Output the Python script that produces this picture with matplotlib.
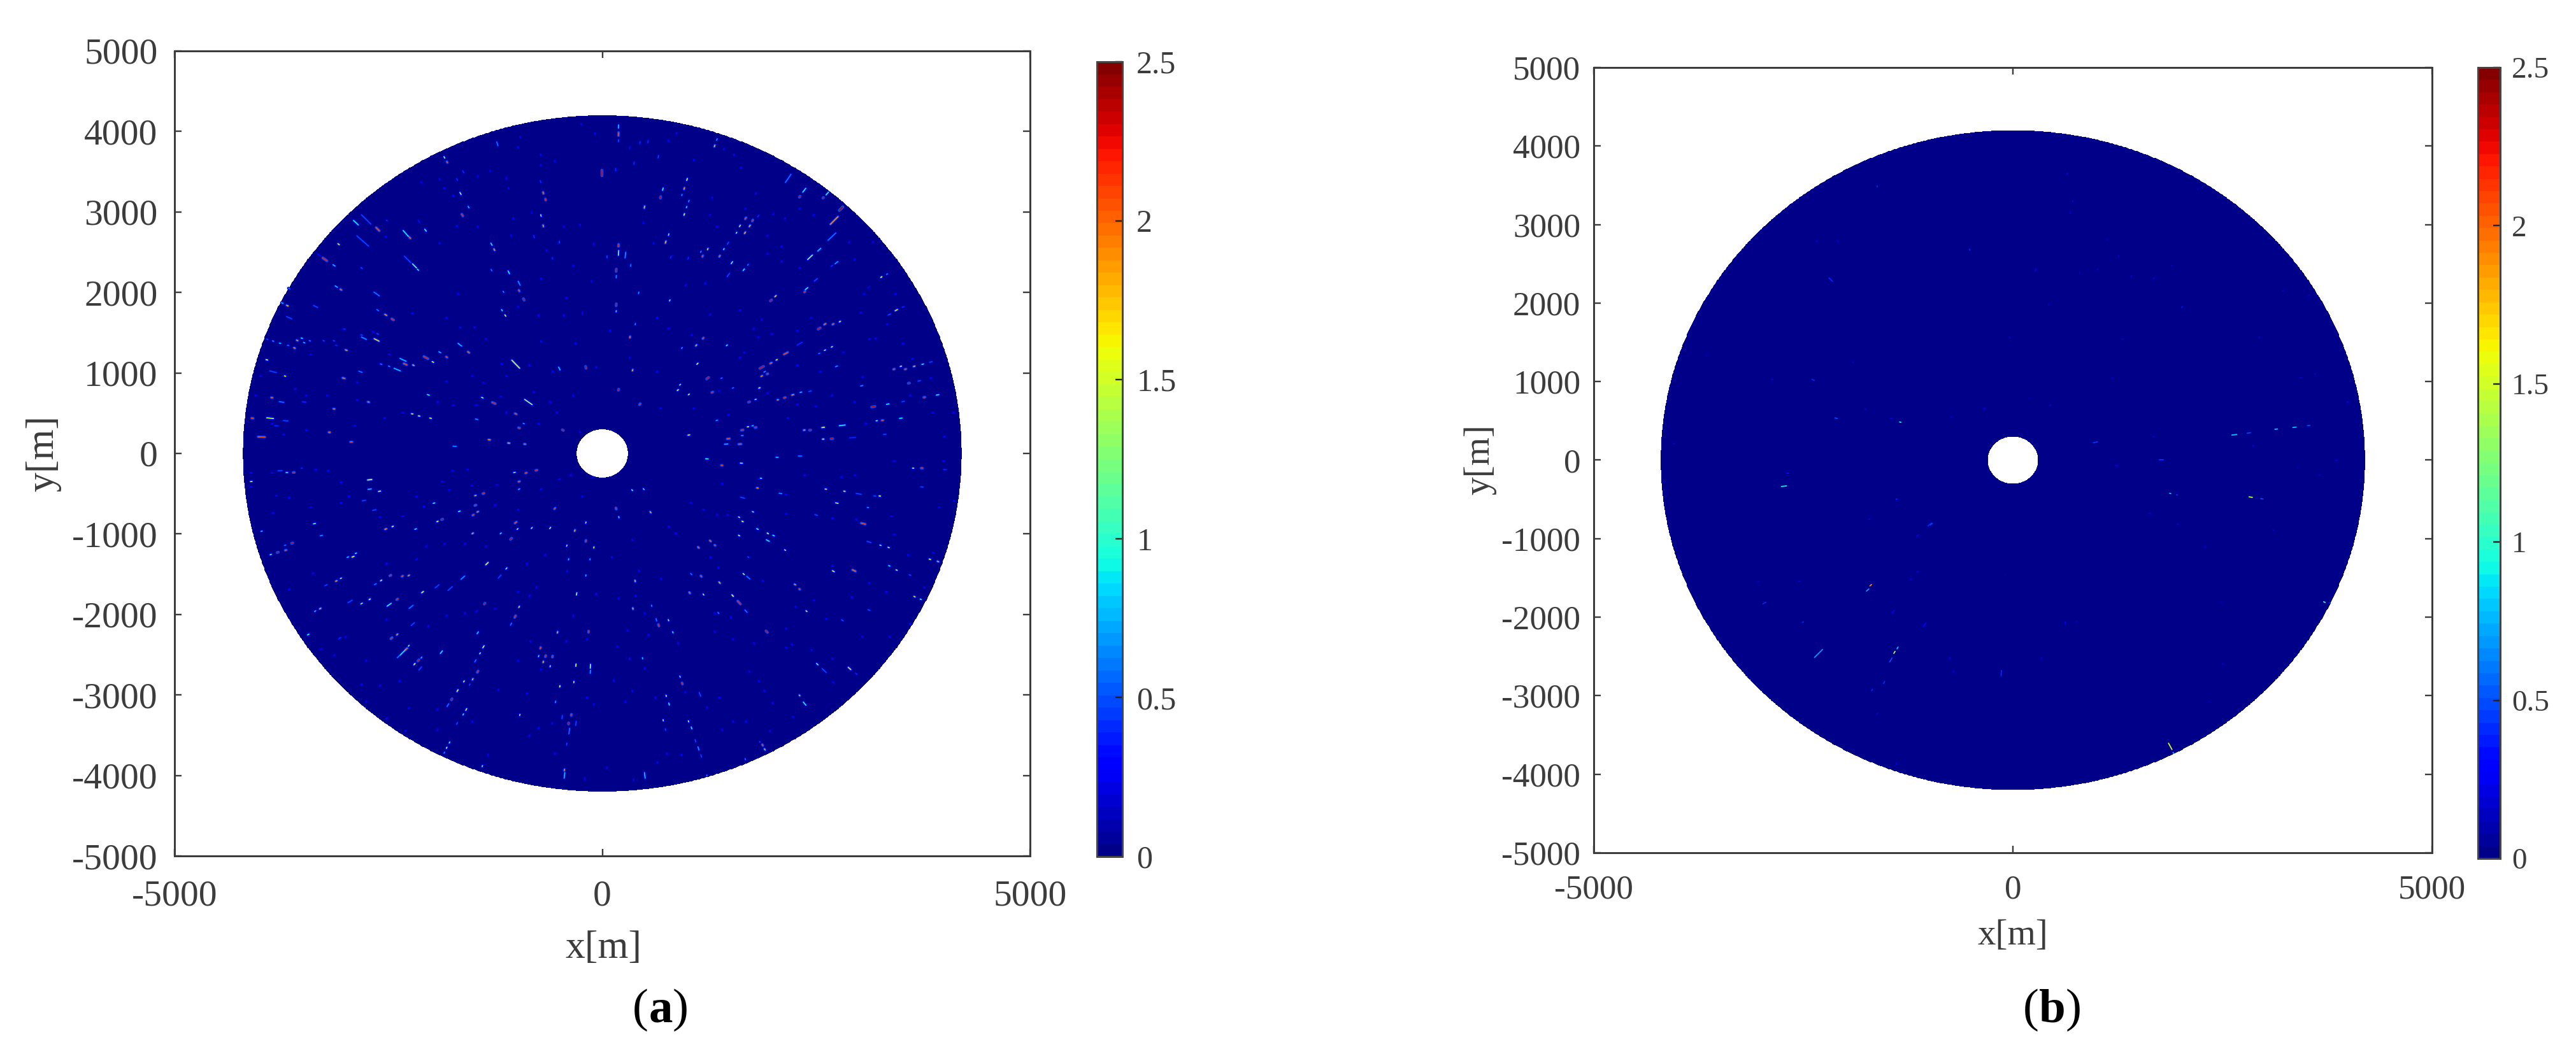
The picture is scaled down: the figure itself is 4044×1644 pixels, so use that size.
import numpy as np
import matplotlib
matplotlib.use("Agg")
import matplotlib.pyplot as plt
from matplotlib.collections import LineCollection
from matplotlib.colors import ListedColormap, Normalize

plt.rcParams['font.family'] = ['Liberation Serif', 'DejaVu Serif']

# ---------- data (x[m], y[m], streak length[m], value) ----------
axis_ticks_x = [-5000, 0, 5000]
axis_ticks_y = [-5000, -4000, -3000, -2000, -1000, 0, 1000, 2000, 3000, 4000, 5000]
cbar_ticks = [0, 0.5, 1, 1.5, 2, 2.5]
cbar_labels = ['0', '0.5', '1', '1.5', '2', '2.5']
r_inner = 300
r_outer = 4200

a_q1 = [(-2276,2411,110,.5),(-2195,2330,70,1.2),(-2155,2282,20,1.0),(-2760,2907,160,.5),(-2625,2786,55,2.1),(-2880,2867,80,.9),
(-2800,2639,190,.5),(-2297,2733,95,.9),(-2249,2679,20,2.0),(-2066,2773,30,1.0),(-2141,2880,40,.35),(-3243,2411,60,2.2),(-3136,2336,30,.8),
(-3310,2464,40,.35),(-3082,2599,20,1.7),(-3109,2073,30,.8),(-3055,2035,15,2.0),(-2638,1981,80,.6),(-2531,1721,25,1.9),(-2450,1665,25,2.2),
(-2625,1780,25,.6),(-3351,1826,55,.5),(-3681,1836,20,1.8),(-3741,1869,20,.8),(-3660,1686,65,.5),(-3915,1418,15,.5),(-3848,1396,15,.7),
(-3767,1369,15,.8),(-3673,1342,15,.6),(-3598,1310,15,1.9),(-3566,1404,15,1.9),(-3512,1431,15,.9),(-3485,1377,15,.8),(-3418,1399,15,.6),
(-3257,1399,15,.5),(-3136,1399,15,.5),(-3109,1342,15,.4),(-2993,1283,20,1.9),(-2786,1431,65,.7),(-2638,1410,65,1.7),(-2813,1471,20,.5),
(-1665,1351,55,.8),(-1563,1257,20,2.0),(-1899,1257,25,.8),(-1980,1136,20,1.5),(-1819,1197,15,2.1),(-2061,1190,55,2.2),(-2329,1163,80,.8),
(-2303,1109,40,2.1),(-2208,1096,15,1.8),(-2397,1042,80,.8),(-2491,1082,15,.7),(-2585,1109,20,.6),(-3848,1015,80,.5),(-3708,961,15,1.5),
(-3921,1163,20,1.5),(-3023,935,25,2.0),(-2827,1015,40,.6),(-1012,1109,135,1.6),(-864,639,110,1.4),(-1402,693,20,1.2),(-2034,728,25,1.0),
(-1657,3229,30,1.3),(-1563,3060,20,.8),(-1636,2961,25,2.2),(-1295,2599,30,.9),(-1262,2531,20,1.9),(-717,2956,20,1.3),(-690,2827,20,1.9),
(-690,3237,20,2.0),(-663,3154,15,2.2),(-722,3377,25,.4),(-1846,3678,20,1.3),(-1813,3619,15,2.1),(-1227,3847,50,.6),(-1625,3498,30,.4),
(-1698,3404,25,.4),(-1093,2250,40,.9),(-972,2115,55,.7),(-1295,2277,20,.6),(-1155,2008,15,.7),(-918,1914,20,2.3),(-972,2022,15,2.1),
(-1133,1713,20,1.5),(-1173,1780,15,1.0),(-3883,438,80,1.4),(-4090,438,20,2.1),(-3700,406,55,.5),(-3808,344,40,.4),(-3983,205,80,2.1),
(-3749,639,55,.6),(-3862,693,15,2.0),(-2733,639,15,2.0),(-3136,553,15,2.0),(-3190,263,15,2.0),(-2934,143,20,2.1),(-3485,639,40,.4),
(-3660,2048,20,.6),(-461,290,15,2.3),(-972,317,15,2.2),(-1012,492,20,2.1),(-192,1069,25,2.3),(-502,1055,40,.8),(-1268,626,40,2.2),
(-1469,425,25,.7),(-2007,438,20,1.5),(-2222,492,15,1.6),(-2141,465,15,1.6),(-1725,89,40,.7),(-1321,170,20,1.9),(-1093,129,20,1.8),
(-905,116,15,2.0),(-918,371,15,.7),(-2518,2894,10,.4),(-2813,2303,20,.5),(-3015,1544,20,.4),(-2625,1485,20,.5),(-797,2693,30,.4),
(-501,2625,20,.5),(-582,2424,20,.4)]

a_q2 = [(190,4061,40,.8),(190,3967,40,2.1),(190,3887,25,.5),(-4,3484,70,2.3),(1313,3820,20,1.8),(1340,3900,20,.7),(655,3686,30,.5),(708,3283,30,1.0),
(991,3404,25,1.5),(958,3291,20,1.9),(1012,3135,20,.7),(985,3060,15,.9),(958,2969,20,1.6),(493,3060,25,1.8),(681,3181,20,2.3),(931,3211,15,.7),
(157,3525,30,.4),(372,3605,30,.4),(534,3874,30,.4),(440,3860,25,.4),(776,2719,20,1.1),(741,2625,25,1.8),(190,2491,60,1.2),(190,2585,25,2.2),
(270,2464,70,.7),(163,2276,30,2.3),(163,2196,30,.7),(55,2443,25,.5),(332,2336,25,.6),(1609,2827,20,1.7),(1676,2921,20,2.1),(1724,2827,20,1.8),
(1668,2741,20,1.8),(1569,2741,15,1.2),(1757,2894,15,2.2),(1824,2948,25,.4),(1233,2539,15,1.7),(1173,2451,15,2.1),(1421,2539,15,1.0),
(1372,2451,15,2.0),(1469,2612,30,.5),(1152,2505,15,.7),(1515,2370,30,1.2),(1654,2282,25,.9),(1474,2217,50,.5),(1703,2344,15,.6),(1004,2424,25,.4),
(802,2438,20,.4),(2429,2437,80,1.3),(2536,2531,50,.8),(2684,2693,130,.6),(2711,2894,130,1.9),(2792,3041,60,2.4),(2173,3417,120,.6),(2361,3270,60,.9),
(2308,3189,15,2.3),(2630,3229,45,1.0),(2582,3176,10,2.3),(2738,2370,45,.7),(2496,2156,50,.5),(2388,2048,40,1.0),(2367,2008,10,2.2),(2684,2330,25,.4),
(2025,1954,20,1.7),(1972,1901,20,2.3),(3262,2191,15,1.6),(3329,2228,15,.6),(3114,2062,30,.3),(3437,1780,30,1.7),(3356,1726,30,.5),(3517,1820,20,.4),
(2603,1606,20,2.0),(2536,1552,30,2.3),(2778,1638,15,1.7),(2698,1606,15,2.0),(2684,1324,15,1.4),(2603,1283,15,1.3),(2536,1243,15,.6),(2039,1163,15,1.7),
(2146,1243,50,2.1),(2308,1364,70,.4),(1864,1069,50,2.3),(1972,1122,20,2.0),(1899,1015,20,.7),(1864,961,15,1.9),(1931,988,10,2.2),(1837,814,15,1.7),
(1792,671,15,1.1),(1716,639,15,2.3),(2227,728,20,1.9),(2321,760,20,.8),(2429,773,30,.5),(2133,693,15,2.2),(2052,666,10,1.9),(2738,1082,25,.7),
(3033,841,25,.7),(3410,1047,15,2.1),(3490,1082,15,1.5),(3544,1047,15,2.1),(3646,1082,15,1.8),(3746,1109,20,1.0),(3840,1136,30,.5),(3584,873,15,2.3),
(3705,902,30,.5),(3765,698,15,2.2),(3920,728,30,.9),(3337,613,30,.9),(3168,580,40,2.3),(3517,645,30,.5),(3208,406,15,1.2),(3275,411,15,2.1),
(3490,438,30,.9),(2805,349,70,.9),(2582,323,30,1.6),(2361,290,15,1.9),(2429,290,15,2.3),(2582,178,15,1.6),(2684,183,20,2.3),(2926,196,70,.4),
(3302,237,30,.5),(1448,116,40,.8),(1609,116,30,2.1),(1474,183,30,2.1),(1636,290,20,2.2),(1792,323,15,2.2),(1703,331,15,1.5),(1757,344,15,.8),
(1340,411,20,.7),(1012,229,20,1.7),(1636,223,20,.7),(1112,1114,20,1.5),(354,1034,15,1.8),(190,792,15,2.3),(883,787,15,1.6),(1012,733,15,1.5),
(910,854,15,1.2),(1098,1343,15,1.8),(1456,1343,15,1.0),(931,1310,15,.7),(1179,1431,15,2.1),(324,1445,15,2.0),(386,1606,15,.7),(789,1901,15,1.2),
(426,1995,20,.7),(163,1847,25,2.3),(163,1766,15,.9),(1232,935,30,2.3),(1286,760,15,2.2),(440,612,15,2.2),(1394,935,15,.6),(1528,814,15,.6)]

a_q3 = [(-3767,-215,50,.5),(-3687,-236,20,.9),(-3606,-236,15,2.2),(-4103,-349,20,1.4),(-3512,-183,15,.4),(-2719,-327,50,1.6),(-2719,-443,40,.8),
(-2604,-470,25,1.5),(-2786,-585,40,.5),(-2665,-703,40,.5),(-3364,-872,25,1.1),(-3982,-966,15,.8),(-3284,-1020,25,.7),(-2531,-939,20,1.9),
(-2450,-907,15,1.6),(-2182,-939,20,.9),(-1967,-617,20,1.0),(-3625,-1114,15,2.3),(-3700,-1202,15,2.1),(-3794,-1229,15,2.3),(-3875,-1256,15,1.1),
(-3708,-1141,15,.6),(-2913,-1283,25,1.6),(-2974,-1288,20,.8),(-2880,-1240,15,1.0),(-3055,-1551,15,1.3),(-3109,-1584,15,1.9),(-3230,-1637,30,.5),
(-2585,-1578,15,1.6),(-2337,-1525,15,2.1),(-2262,-1516,15,1.9),(-2652,-1624,25,.6),(-2477,-1516,15,2.2),(-3297,-1927,15,1.8),(-3356,-1959,15,.8),
(-2719,-1812,15,1.6),(-2948,-1839,60,.5),(-2813,-1865,20,1.3),(-2397,-1812,15,2.2),(-2491,-1879,60,1.0),(-2101,-1723,25,1.6),(-2235,-1906,60,.6),
(-3437,-2249,20,1.0),(-2397,-2249,15,1.9),(-2464,-2295,20,2.2),(-3069,-2295,30,.4),(-2329,-2469,100,.9),(-2289,-2429,30,2.0),(-2262,-2389,15,1.3),
(-2383,-2523,40,.6),(-2149,-2571,20,2.3),(-2195,-2617,20,1.6),(-2114,-2536,15,.8),(-2128,-2671,50,.5),(-2214,-2120,50,.5),(-1932,-1651,60,.5),
(-1778,-1678,70,.5),(-1630,-1543,60,.7),(-1926,-845,15,1.6),(-1872,-819,15,2.3),(-1515,-993,15,1.8),(-1483,-644,15,2.2),(-1509,-765,15,2.1),
(-1456,-725,15,1.9),(-1483,-523,15,1.9),(-1671,-719,20,1.0),(-1389,-497,15,2.2),(-1348,-1369,40,1.6),(-1120,-1428,20,1.2),(-1200,-1530,50,.5),
(-1018,-2026,25,2.2),(-972,-1906,15,1.7),(-1066,-2120,30,.6),(-1375,-1865,15,2.3),(-1456,-2228,30,.8),(-1389,-2402,30,1.5),(-1429,-2483,15,1.3),
(-1483,-2577,30,.6),(-1881,-2469,40,.9),(-1515,-2805,15,1.8),(-1617,-2832,15,1.5),(-1456,-2711,20,2.2),(-1692,-2947,25,1.6),(-1550,-2872,15,.5),
(-1760,-3054,15,2.3),(-1805,-3127,40,.6),(-1590,-3181,25,1.4),(-1625,-3242,15,1.0),(-1698,-3355,25,.5),(-1819,-3656,15,1.5),(-1786,-3591,15,1.1),
(-1846,-3717,15,.7),(-1402,-3884,15,1.2),(-442,-3999,70,.8),(-442,-3932,15,1.9),(-386,-3449,70,.6),(-308,-3355,50,.5),(-469,-3274,40,.5),
(-964,-3248,15,1.3),(-362,-3248,15,2.2),(-394,-3355,15,2.3),(-496,-2893,15,1.6),(-332,-2840,15,1.5),(-547,-3087,20,.7),(-415,-3610,25,.5),
(-139,-2644,50,1.3),(-139,-2711,40,.7),(-308,-2630,30,1.5),(-160,-2214,15,2.2),(-523,-2222,15,1.8),(-300,-1745,30,1.4),(-722,-2416,15,2.1),
(-690,-2590,15,1.8),(-744,-2518,15,1.0),(-609,-2644,15,1.3),(-663,-2518,15,2.2),(-582,-2523,15,2.2),(-192,-1516,15,.8),(-394,-1315,15,.8),
(-144,-1315,15,.7),(-98,-1168,15,1.5),(-321,-958,15,1.8),(-192,-1087,15,2.2),(-415,-1146,15,1.4),(-609,-926,20,1.4),(-824,-926,15,1.4),
(-1187,-993,15,1.0),(-1066,-1060,20,2.3),(-1012,-859,25,2.1),(-991,-939,15,1.4),(-972,-349,15,2.1),(-891,-242,15,2.1),(-1026,-236,20,1.2),
(-770,-209,15,2.2),(-972,-443,15,.8),(-555,-684,15,2.1),(-192,-859,15,1.4)]

a_q4 = [(3634,-183,15,1.4),(3736,-183,15,2.2),(3736,-416,30,.5),(4005,-201,30,.4),(2613,-443,15,1.7),(2831,-470,15,1.6),(2997,-502,60,.5),(3244,-529,15,1.6),
(3185,-529,25,.5),(2742,-617,30,1.4),(3105,-671,15,.7),(3051,-872,50,2.1),(2500,-765,30,.5),(3252,-1141,15,1.2),(3347,-1168,15,1.5),(3118,-1100,50,.5),
(3830,-1315,15,1.6),(3924,-1342,15,1.8),(3355,-1396,15,.9),(3441,-1449,15,1.4),(3597,-1511,20,.5),(2943,-1455,40,2.0),(2701,-1463,25,1.5),
(3650,-1779,15,1.7),(3723,-1812,15,1.0),(2253,-1629,15,1.9),(2306,-1686,10,2.1),(2387,-1959,15,1.5),(2513,-2617,25,1.1),(2594,-2697,70,.5),
(2890,-2671,40,1.7),(2970,-2738,20,.4),(2365,-3108,50,.9),(2306,-3006,10,1.8),(1874,-3623,15,2.1),(1900,-3677,15,1.8),(1841,-3583,10,.5),
(497,-3999,70,.8),(1156,-3758,30,.5),(1124,-3664,40,.7),(1089,-3570,30,.5),(1043,-3409,25,.9),(1008,-3328,15,1.4),(1672,-3798,15,.6),(1223,-3999,10,.7),
(712,-3315,15,1.3),(739,-3430,20,.5),(780,-3113,25,.9),(747,-3011,15,1.5),(909,-2773,15,1.0),(935,-2858,15,2.2),(470,-2544,15,.8),(1142,-2993,50,.5),
(825,-2222,15,.9),(774,-2072,15,1.4),(358,-1927,15,1.8),(659,-2134,20,2.2),(632,-2067,30,.6),(578,-1892,15,.7),(1021,-1731,15,2.0),(1183,-1753,15,1.4),
(1371,-1605,20,1.8),(1156,-1525,15,2.1),(1040,-1498,20,.6),(1653,-1498,20,1.4),(1707,-1543,50,.6),(1524,-1766,25,1.6),(1599,-1852,50,2.2),(1680,-1959,40,.6),
(1357,-1981,20,.6),(1922,-2214,25,2.3),(1124,-1168,15,2.0),(1263,-1087,15,2.0),(1317,-1141,10,2.1),(1599,-1020,15,1.5),(1935,-1082,40,.9),(2003,-1020,20,.9),
(1935,-993,15,1.6),(1814,-939,20,1.1),(1640,-845,15,1.6),(1599,-792,15,1.4),(2137,-1200,15,1.4),(1707,-1288,15,.5),(1814,-429,15,1.9),(1855,-309,15,1.0),
(1761,-725,15,1.2),(2083,-497,30,.7),(1640,-550,50,.5),(349,-456,15,1.1),(484,-443,15,1.0),(564,-730,15,1.8),(161,-684,15,2.2),(194,-792,15,1.0),
(1223,-67,30,1.0),(1626,-121,25,1.2),(1398,-148,15,2.1),(2312,-32,40,.6),(2043,-48,25,.8),(384,-1584,15,1.8),(2806,-2072,25,.5),(3118,-1946,25,.5)]

a_faint_q1 = [(-960,3930),(-720,3710),(-555,3630),(-985,3805),(-245,4090),(-85,3970),(-1120,3415),(-720,3580),(-1095,3295),(-1310,3510),(-1455,3445),(-1900,3405),
(-2115,3365),(-1845,3295),(-1740,3200),(-1040,2920),(-825,2990),(-1455,2815),(-1700,2825),(-515,2610),(-1065,2705),(-650,2520),(-260,2840),(-450,2815),
(-100,2600),(-340,2330),(-125,2140),(-420,1930),(-715,2170),(-450,1715),(-230,1740),(-745,1715),(-985,1820),(-1685,1980),(-1820,1685),(-2220,1740),
(-1495,1565),(-1660,1565),(-1360,1420),(-715,1390),(-315,1365),(-70,1070),(-580,1015),(-850,1095),(-1175,1110),(-1120,960),(-1520,960),(-1820,895),
(-1390,880),(-1185,705),(-1925,640),(-800,760),(-610,640),(-1120,505),(-1470,600),(-1740,600),(-2330,505),(-2545,440),(-2865,665),(-3215,720),(-3460,720),
(-2865,880),(-2895,345),(-3460,290),(-3860,370),(-3725,235),(-3995,960),(-3590,800),(-4050,720),(-3405,1230),(-3030,1540),(-2680,1510),(-2490,1230),
(-1900,2610),(-2530,2690),(-2600,1120),(-530,505),(-340,720),(-260,265),(-745,370)]
a_faint_q2 = [(320,3795),(535,3875),(870,3980),(775,3885),(1070,3645),(1540,3710),(1620,3550),(1285,3175),(1420,3780),(1795,3230),(2135,2920),(2000,2975),(2470,2960),
(2305,3040),(2095,2570),(1930,2480),(2095,2385),(2305,2305),(1930,2705),(1675,3040),(1340,2815),(1260,2960),(480,2865),(600,2610),(815,2450),(1205,2115),(975,2090),
(640,1685),(775,1550),(1045,1470),(1260,1725),(1610,1780),(1865,1660),(1770,1550),(1985,1485),(2280,1525),(2440,1685),(2950,2410),(2885,2625),(3165,2625),(3425,1980),
(3060,1980),(3020,1750),(3330,1605),(3195,1430),(3125,1420),(3625,1175),(3515,1365),(2820,1255),(2550,1015),(2280,1095),(1825,1445),(1660,1255),(1610,1190),(1365,775),
(1070,560),(680,560),(320,1190),(90,1525),(640,1015),(2685,720),(3045,950),(2950,640),(3840,935),(3865,505),(4105,505),(4000,210),(3600,720),(2170,440),(2280,610),
(1475,480),(1930,750),(2495,585),(3085,370)]
a_faint_q3 = [(-4105,-240),(-3860,-240),(-3350,-200),(-3205,-215),(-4105,-415),(-3810,-525),(-3660,-550),(-2960,-535),(-3055,-360),(-3850,-740),(-3405,-670),(-3055,-615),
(-2600,-790),(-2330,-780),(-2085,-660),(-1870,-350),(-1750,-215),(-1575,-200),(-1230,-390),(-1525,-400),(-2170,-535),(-3660,-1690),(-3380,-1490),(-2520,-1370),(-2170,-1315),
(-2060,-1155),(-1845,-1125),(-1605,-1125),(-1360,-1155),(-880,-1370),(-665,-1260),(-410,-1465),(-770,-1665),(-985,-1720),(-850,-1770),(-1255,-1930),(-1605,-1985),(-1470,-1960),
(-1820,-2015),(-2035,-2145),(-2520,-2065),(-3000,-2280),(-3285,-2430),(-3135,-2510),(-2760,-2575),(-2370,-2830),(-2815,-2870),(-2600,-2885),(-2260,-3165),(-2520,-3290),
(-2760,-3085),(-1925,-3180),(-2300,-3450),(-1925,-3435),(-1520,-3330),(-1215,-2940),(-1335,-3745),(-850,-3505),(-555,-3730),(-205,-4040),(-880,-2980),(-715,-2685),(-985,-2575),
(-585,-3355),(-180,-3035),(-745,-3410),(-100,-3115),(-340,-2015),(-420,-2335),(-180,-2310),(-840,-2335),(-70,-1745),(-985,-700),(-1255,-645),(-1790,-455),(-715,-445),(-500,-320),
(-370,-270),(-235,-535),(-110,-295)]
a_faint_q4 = [(190,-790),(350,-1075),(110,-1290),(430,-1460),(685,-1555),(390,-1770),(190,-1800),(495,-1985),(295,-2200),(540,-2255),(885,-2360),(175,-2400),(320,-2550),(495,-2670),
(135,-2820),(350,-2950),(270,-3085),(620,-3035),(970,-2965),(1370,-3035),(1225,-3155),(1530,-3330),(1400,-3435),(1680,-3330),(1960,-3450),(645,-3840),(365,-4055),(55,-3905),(755,-3730),
(925,-3745),(1720,-2710),(1830,-2830),(1895,-2950),(2150,-2415),(2220,-2375),(2445,-2440),(2690,-2550),(2700,-2845),(1990,-3100),(2230,-3275),(1530,-2310),(1775,-2360),(1315,-2215),
(1505,-2040),(1315,-1985),(2150,-2175),(2620,-2055),(3040,-2280),(3360,-2280),(3600,-2120),(3765,-1665),(3320,-1720),(2915,-1785),(3120,-1610),(2690,-1395),(2260,-1905),(2475,-1825),
(1880,-1585),(1720,-1290),(1360,-1420),(1265,-1290),(860,-995),(780,-910),(1035,-615),(1345,-765),(1465,-765),(2150,-750),(2690,-805),(2970,-820),(3385,-780),(3940,-670),(4110,-590),
(3415,-1005),(3870,-1235),(3575,-1260),(2955,-270),(2795,-295),(2365,-270),(3415,-95),(3990,-95),(2150,-510),(1185,-700),(1400,-375),(1830,-320)]
a_faint_value = 0.3
a_faint_length = 12

b_marks = [(2641,323,60,.8),(2815,346,40,.5),(3141,395,30,.8),(3359,418,40,.8),(3528,441,30,.5),(984,227,50,.45),(1769,0,50,.5),(1239,-73,30,.3),
(649,3648,15,.3),(713,3296,15,.3),(687,3152,15,.2),(1129,2805,15,.2),(1260,2595,15,.2),(271,2424,30,.3),(794,2384,15,.2),(1007,2430,15,.2),(1414,2338,15,.25),
(1681,2315,15,.25),(1894,2479,15,.15),(2016,1948,20,.35),(425,1983,15,.2),(-34,1564,15,.15),(1309,1541,15,.2),(2938,1564,15,.2),(3223,2156,15,.2),(3528,2098,15,.2),
(1187,1044,15,.2),(3435,1050,15,.3),(3606,1096,15,.2),(3993,741,15,.3),(445,698,15,.3),(198,793,15,.15),(-340,655,15,.2),(2868,184,15,.25),(1681,300,15,.2),
(2205,3455,15,.2),(3856,-4,15,.25),(3659,-188,15,.2),(3397,-102,15,.15),
(-1619,3487,15,.4),(-2173,2299,60,.4),(-515,2679,15,.4),(-2339,2786,15,.2),(-2086,2786,15,.2),(-1911,1248,15,.2),(-2871,1029,15,.3),(-2382,1021,30,.4),(-2108,534,30,.5),
(-1453,534,15,.3),(-1344,484,15,.9),(-2731,-332,60,.9),(-2688,-167,15,.4),(-1388,-497,15,.4),(-1715,-753,15,.3),(-973,-815,30,.5),(-4040,208,15,.2),(-341,658,15,.3),
(-733,546,15,.2),(-36,1557,15,.2),(-1759,650,15,.2),(-3656,1330,15,.15),
(2837,-471,40,1.4),(2970,-493,30,.5),(1957,-443,15,.4),(1877,-424,15,.8),(-1696,-1593,25,1.9),(-1733,-1654,40,.7),(-2965,-1821,40,.4),(-2506,-2064,15,.4),(-1429,-1933,40,.3),
(-1056,-2100,60,.3),(-1413,-2448,30,1.4),(-1376,-2392,25,.8),(-1456,-2545,60,.5),(-2319,-2462,140,.7),(-1536,-2832,30,.4),(-1680,-2927,20,.4),(-139,-2712,70,.4),(624,-2072,30,.3),
(757,-2058,15,.2),(1877,-3645,90,1.5),(1914,-3729,15,.8),(3716,-1808,20,1.0),(3780,-1821,15,.4),(-992,-819,60,.4),(-1136,-958,30,.3),(-1376,-499,15,.3),(-1136,-1423,20,.3),
(-1216,-1515,15,.3),(-2549,-1543,15,.3),(-3039,-1549,15,.2),(-709,-2698,15,.25),(-1392,-3868,15,.3),(-1616,-3227,15,.2),(2506,-2601,15,.2),(2341,-3074,15,.15),(1967,-819,15,.2),
(1637,-680,15,.2),(3103,-889,15,.2),(2293,-1106,15,.2),(1770,-6,30,.25),(1237,-73,15,.2),(-2693,-165,15,.3),(2490,-1808,15,.15),(341,-2523,15,.2),(-96,-1460,15,.15),(-752,-2523,15,.3)]

# ---------- style ----------
W, H = 4044, 1644
DPI = 100
PX = 72 / DPI
INK = '#3c3c3c'
jet = plt.get_cmap('jet')
cmap = ListedColormap(jet((np.arange(64) + 0.5) / 64))
norm = Normalize(0, 2.5)

def box(left, top, right, bottom):
    return [left / W, 1 - bottom / H, (right - left) / W, (bottom - top) / H]

def marks_collection(x, y, length, value, width_px, **kw):
    x, y, length = map(np.asarray, (x, y, length))
    r = np.hypot(x, y)
    ux, uy = x / r, y / r
    seg = np.stack([np.c_[x - ux * length / 2, y - uy * length / 2],
                    np.c_[x + ux * length / 2, y + uy * length / 2]], axis=1)
    return LineCollection(seg, array=np.asarray(value), cmap=cmap, norm=norm,
                          linewidths=width_px * PX, capstyle='round', **kw)

def panel(ax_box, cax_box, tick_fs, cbar_fs, tick_pad_x, tick_pad_y, cbar_pad):
    ax = fig.add_axes(box(*ax_box))
    theta = np.radians(np.linspace(0, 360, 1441))
    rr = np.array([r_inner, r_outer])
    T, R = np.meshgrid(theta, rr)
    mesh = ax.pcolormesh(R * np.cos(T), R * np.sin(T), np.zeros((1, 1440)),
                         cmap=cmap, norm=norm, shading='flat', antialiased=False)
    ax.set_xlim(-5000, 5000)
    ax.set_ylim(-5000, 5000)
    ax.set_xticks(axis_ticks_x, [str(v) for v in axis_ticks_x])
    ax.set_yticks(axis_ticks_y, [str(v) for v in axis_ticks_y])
    ax.tick_params(axis='x', direction='in', top=True, length=11.5 * PX, width=2.4 * PX,
                   labelsize=tick_fs, pad=tick_pad_x, color=INK, labelcolor=INK)
    ax.tick_params(axis='y', direction='in', right=True, length=11.5 * PX, width=2.4 * PX,
                   labelsize=tick_fs, pad=tick_pad_y, color=INK, labelcolor=INK)
    for s in ax.spines.values():
        s.set_linewidth(3 * PX)
        s.set_color(INK)
    cax = fig.add_axes(box(*cax_box))
    cb = fig.colorbar(mesh, cax=cax, ticks=cbar_ticks)
    cb.set_ticklabels(cbar_labels)
    cb.ax.tick_params(direction='in', length=11.5 * PX, width=2.4 * PX, labelsize=cbar_fs,
                      pad=cbar_pad, color='#222222', labelcolor=INK)
    cb.outline.set_linewidth(3 * PX)
    cb.outline.set_edgecolor('#444444')
    return ax

fig = plt.figure(figsize=(W / DPI, H / DPI), dpi=DPI, facecolor='white')

# ---------- panel (a) ----------
ax_a = panel((274, 80, 1617, 1344), (1722, 97, 1762, 1345), 41.5, 36, 27, 19, 16)
a_all = np.array(a_q1 + a_q2 + a_q3 + a_q4, dtype=float)
a_faint = np.array(a_faint_q1 + a_faint_q2 + a_faint_q3 + a_faint_q4, dtype=float)
fl = np.full(len(a_faint), a_faint_length)
fv = np.full(len(a_faint), a_faint_value)
ax_a.add_collection(marks_collection(a_faint[:, 0], a_faint[:, 1], fl, fv, 3.0, zorder=3))
ax_a.add_collection(marks_collection(a_all[:, 0], a_all[:, 1], a_all[:, 2], a_all[:, 3] * 0.22, 4.5, zorder=4))
ax_a.add_collection(marks_collection(a_all[:, 0], a_all[:, 1], a_all[:, 2], a_all[:, 3], 1.7, zorder=5))

# ---------- panel (b) ----------
ax_b = panel((2502, 106, 3818, 1339), (3890, 106, 3925, 1348), 38.3, 34, 25, 15, 13)
b_all = np.array(b_marks, dtype=float)
ax_b.add_collection(marks_collection(b_all[:, 0], b_all[:, 1], b_all[:, 2], b_all[:, 3], 1.8, zorder=5))

# ---------- texts ----------
def ftext(px, py, s, **kw):
    return fig.text(px / W, 1 - py / H, s, **kw)

ftext(947, 1504, 'x[m]', fontsize=44.5, ha='center', va='baseline', color=INK)
ftext(68, 712, 'y[m]', fontsize=44.5, ha='center', va='center', rotation=90, color=INK)
ftext(3160, 1483, 'x[m]', fontsize=41, ha='center', va='baseline', color=INK)
ftext(2323, 722, 'y[m]', fontsize=41, ha='center', va='center', rotation=90, color=INK)

for cx, letter in ((1037, 'a'), (3222, 'b')):
    half = 19 if letter == 'a' else 21
    ftext(cx - half, 1604, '(', fontsize=54, ha='right', va='baseline', color='black')
    ftext(cx, 1604, letter, fontsize=54, fontweight='bold', ha='center', va='baseline', color='black')
    ftext(cx + half, 1604, ')', fontsize=54, ha='left', va='baseline', color='black')

fig.savefig('out.png', dpi=DPI, facecolor='white')
